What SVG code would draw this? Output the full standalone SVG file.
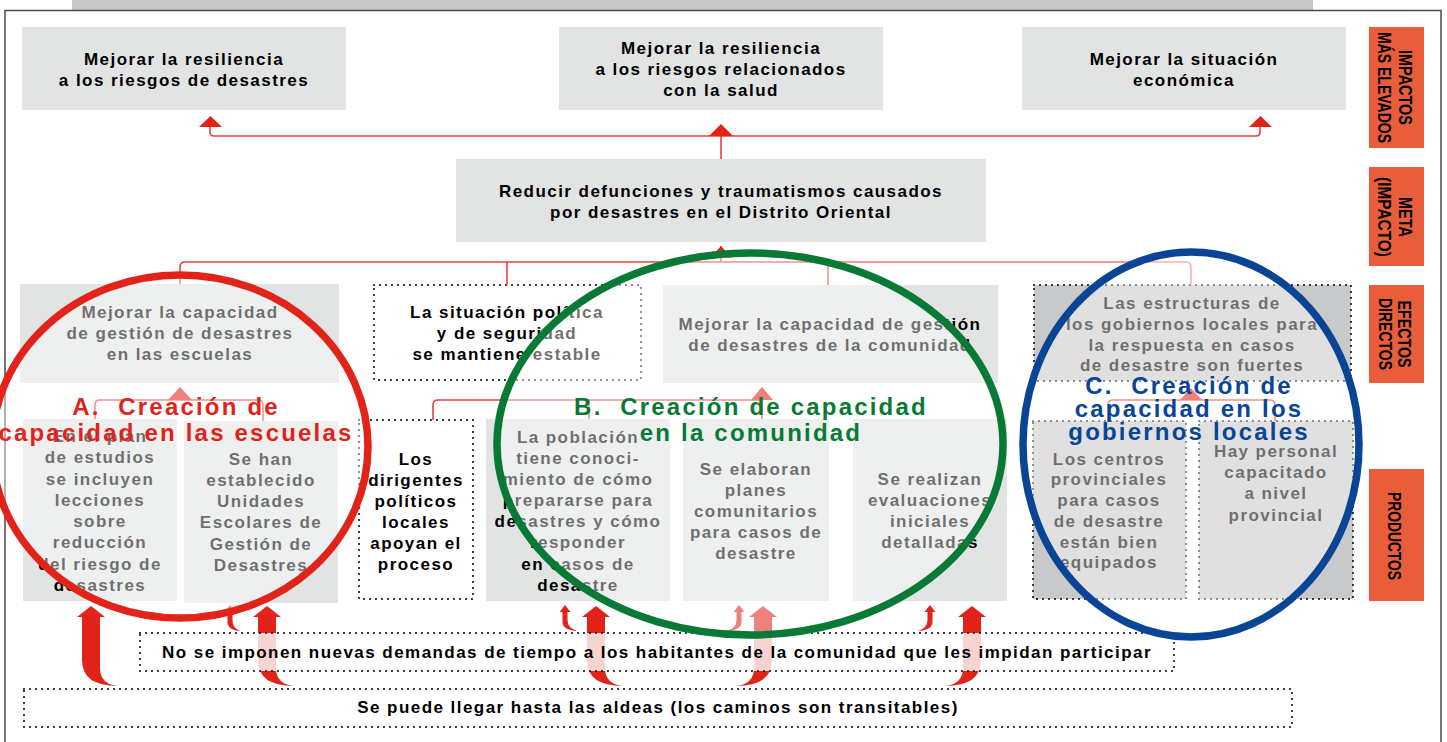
<svg xmlns="http://www.w3.org/2000/svg" width="1447" height="742" viewBox="0 0 1447 742">
<style>
.t{font-family:"Liberation Sans",Arial,sans-serif;font-weight:bold;font-size:17px;letter-spacing:1.45px;fill:#000;text-anchor:middle}
.box{fill:#e2e3e3}
.dbox{fill:#c8c9cb}
.dot{fill:none;stroke:#000;stroke-width:2;stroke-dasharray:0 6;stroke-linecap:round}
.ln{fill:none;stroke:#e8413f;stroke-width:1.6}
.ln2{fill:none;stroke:#ee7a76;stroke-width:1.6}
.ah{fill:#e2231a}
.side{fill:#e95d3b}
.st{font-family:"Liberation Sans",Arial,sans-serif;font-weight:bold;font-size:18px;fill:#000;text-anchor:middle}
.lbl{font-family:"Liberation Sans",Arial,sans-serif;font-weight:bold;font-size:24px;letter-spacing:2.2px;text-anchor:middle}
.circ{fill:#fff;fill-opacity:0.43;stroke-width:7.5}
</style>
<rect x="72" y="0" width="1241" height="10" fill="#c6c7c9"/>
<path d="M5,742 V10.5 H1441 V742" fill="none" stroke="#4a4a4c" stroke-width="1.5"/>

<g id="impacto1"><rect class="box" x="22" y="27" width="324" height="83"/><text class="t"><tspan x="184" y="65">Mejorar la resiliencia</tspan><tspan x="184" y="86">a los riesgos de desastres</tspan></text></g>
<g id="impacto2"><rect class="box" x="559" y="27" width="324" height="83"/><text class="t"><tspan x="721" y="54">Mejorar la resiliencia</tspan><tspan x="721" y="75">a los riesgos relacionados</tspan><tspan x="721" y="96">con la salud</tspan></text></g>
<g id="impacto3"><rect class="box" x="1022" y="27" width="324" height="83"/><text class="t"><tspan x="1184" y="65">Mejorar la situación</tspan><tspan x="1184" y="86">económica</tspan></text></g>
<g id="meta"><rect class="box" x="456" y="159" width="530" height="83"/><text class="t"><tspan x="721" y="197">Reducir defunciones y traumatismos causados</tspan><tspan x="721" y="218">por desastres en el Distrito Oriental</tspan></text></g>

<g id="efectoA"><rect class="box" x="20" y="284" width="319" height="99"/><text class="t"><tspan x="180" y="318">Mejorar la capacidad</tspan><tspan x="180" y="339">de gestión de desastres</tspan><tspan x="180" y="360">en las escuelas</tspan></text></g>
<g id="situacion"><rect class="dot" x="374" y="285" width="267" height="95"/><text class="t"><tspan x="507" y="318">La situación política</tspan><tspan x="507" y="339">y de seguridad</tspan><tspan x="507" y="360">se mantiene estable</tspan></text></g>
<g id="efectoB"><rect class="box" x="663" y="285" width="335" height="98"/><text class="t"><tspan x="830" y="330">Mejorar la capacidad de gestión</tspan><tspan x="830" y="351">de desastres de la comunidad</tspan></text></g>
<g id="efectoC"><rect class="dbox" x="1034" y="285" width="317" height="96"/><rect class="dot" x="1034" y="285" width="317" height="96"/><text class="t"><tspan x="1192" y="309">Las estructuras de</tspan><tspan x="1192" y="330">los gobiernos locales para</tspan><tspan x="1192" y="351">la respuesta en casos</tspan><tspan x="1192" y="371">de desastre son fuertes</tspan></text></g>

<g id="productoA1"><rect class="box" x="23" y="419" width="154" height="182"/><text class="t"><tspan x="100" y="442">En el plan</tspan><tspan x="100" y="463">de estudios</tspan><tspan x="100" y="485">se incluyen</tspan><tspan x="100" y="506">lecciones</tspan><tspan x="100" y="527">sobre</tspan><tspan x="100" y="548">reducción</tspan><tspan x="100" y="570">del riesgo de</tspan><tspan x="100" y="591">desastres</tspan></text></g>
<g id="productoA2"><rect class="box" x="184" y="421" width="154" height="182"/><text class="t"><tspan x="261" y="465">Se han</tspan><tspan x="261" y="486">establecido</tspan><tspan x="261" y="507">Unidades</tspan><tspan x="261" y="528">Escolares de</tspan><tspan x="261" y="550">Gestión de</tspan><tspan x="261" y="571">Desastres</tspan></text></g>
<g id="dirigentes"><rect class="dot" x="359" y="420" width="114" height="179"/><text class="t"><tspan x="416" y="465">Los</tspan><tspan x="416" y="486">dirigentes</tspan><tspan x="416" y="507">políticos</tspan><tspan x="416" y="528">locales</tspan><tspan x="416" y="549">apoyan el</tspan><tspan x="416" y="570">proceso</tspan></text></g>
<g id="productoB1"><rect class="box" x="486" y="419" width="184" height="182"/><text class="t"><tspan x="578" y="443">La población</tspan><tspan x="578" y="464">tiene conoci-</tspan><tspan x="578" y="485">miento de cómo</tspan><tspan x="578" y="506">prepararse para</tspan><tspan x="578" y="527">desastres y cómo</tspan><tspan x="578" y="548">responder</tspan><tspan x="578" y="570">en casos de</tspan><tspan x="578" y="591">desastre</tspan></text></g>
<g id="productoB2"><rect class="box" x="683" y="419" width="146" height="182"/><text class="t"><tspan x="756" y="475">Se elaboran</tspan><tspan x="756" y="496">planes</tspan><tspan x="756" y="517">comunitarios</tspan><tspan x="756" y="538">para casos de</tspan><tspan x="756" y="559">desastre</tspan></text></g>
<g id="productoB3"><rect class="box" x="853" y="419" width="154" height="182"/><text class="t"><tspan x="930" y="485">Se realizan</tspan><tspan x="930" y="506">evaluaciones</tspan><tspan x="930" y="527">iniciales</tspan><tspan x="930" y="548">detalladas</tspan></text></g>
<g id="productoC1"><rect class="dbox" x="1033" y="421" width="153" height="178"/><rect class="dot" x="1033" y="421" width="153" height="178"/><text class="t"><tspan x="1109" y="465">Los centros</tspan><tspan x="1109" y="485">provinciales</tspan><tspan x="1109" y="506">para casos</tspan><tspan x="1109" y="527">de desastre</tspan><tspan x="1109" y="548">están bien</tspan><tspan x="1109" y="568">equipados</tspan></text></g>
<g id="productoC2"><rect class="dbox" x="1199" y="421" width="154" height="178"/><rect class="dot" x="1199" y="421" width="154" height="178"/><text class="t"><tspan x="1276" y="457">Hay personal</tspan><tspan x="1276" y="478">capacitado</tspan><tspan x="1276" y="499">a nivel</tspan><tspan x="1276" y="521">provincial</tspan></text></g>

<g id="connectors">
<path class="ln" d="M210,127 V132 Q210,136 214,136 H1256 Q1260,136 1260,132 V127"/>
<path class="ln" d="M721,136 V159"/>
<polygon class="ah" points="199,127 222,127 210.5,116"/>
<polygon class="ah" points="709,136 733,136 721,124"/>
<polygon class="ah" points="1249,127 1272,127 1260.5,116"/>
<path class="ln" d="M721,246 V262"/>
<path class="ln" d="M180,284 V267 Q180,262 185,262 H828"/>
<path class="ln2" d="M828,262 H1186 Q1191,262 1191,267 V285"/>
<path class="ln" d="M507,262 V285 M828,262 V285"/>
<polygon class="ah" points="710,258 732,258 721,246"/>
<path class="ln" d="M95,419 V405 Q95,400 100,400 H258 Q263,400 263,405 V421"/>
<polygon class="ah" points="168,400 192,400 180,387"/>
<path class="ln" d="M433,420 V405 Q433,400 438,400 H762 M589,400 V419 M762,400 V419"/>
<polygon class="ah" points="751,400 773,400 762,387"/>
<path class="ln" d="M1108,421 V405 Q1108,400 1113,400 H1270 Q1275,400 1275,405 V421"/>
<polygon class="ah" points="1180,400 1202,400 1191,388"/>
<path class="ah" d="M82,617 L82,660 Q82,686 118,686 Q100,684 100,668 L100,617 L105,617 L91,606 L77,617 Z"/>
<path class="ah" d="M258,617 L258,660 Q258,686 294,686 Q276,684 276,668 L276,617 L281,617 L267,606 L253,617 Z"/>
<path class="ah" d="M587,617 L587,660 Q587,686 623,686 Q605,684 605,668 L605,617 L610,617 L596,606 L582,617 Z"/>
<path class="ah" d="M772,617 L772,660 Q772,686 736,686 Q754,684 754,668 L754,617 L749,617 L763,606 L777,617 Z"/>
<path class="ah" d="M981,617 L981,660 Q981,686 945,686 Q963,684 963,668 L963,617 L958,617 L972,606 L986,617 Z"/>
<path class="ah" d="M227.5,612 L227.5,622 Q227.5,630 240,631 Q232.5,628 232.5,620 L232.5,612 L235.5,612 L230,605 L224.5,612 Z"/>
<path class="ah" d="M562.5,612 L562.5,622 Q562.5,630 577,631 Q567.5,628 567.5,620 L567.5,612 L570.5,612 L565,605 L559.5,612 Z"/>
<path class="ah" d="M741.5,612 L741.5,622 Q741.5,630 727,631 Q736.5,628 736.5,620 L736.5,612 L733.5,612 L739,605 L744.5,612 Z"/>
<path class="ah" d="M932.5,612 L932.5,622 Q932.5,630 918,631 Q927.5,628 927.5,620 L927.5,612 L924.5,612 L930,605 L935.5,612 Z"/>
</g>

<g id="supuesto1"><rect x="140" y="633" width="1034" height="38" fill="#fff" fill-opacity="0.8"/><rect class="dot" x="140" y="633" width="1034" height="38"/><text class="t" x="657" y="658">No se imponen nuevas demandas de tiempo a los habitantes de la comunidad que les impidan participar</text></g>
<g id="supuesto2"><rect class="dot" x="24" y="689" width="1268" height="38"/><text class="t" x="658" y="713">Se puede llegar hasta las aldeas (los caminos son transitables)</text></g>

<g id="grupoA"><ellipse class="circ" cx="180" cy="446.5" rx="188" ry="171.5" stroke="#e2231a"/><text class="lbl" fill="#e2231a"><tspan x="176" y="415">A.&#160; Creación de</tspan><tspan x="176" y="441">capacidad en las escuelas</tspan></text></g>
<g id="grupoB"><ellipse class="circ" cx="750" cy="444" rx="253" ry="191" stroke="#087a36"/><text class="lbl" fill="#087a36"><tspan x="751" y="415">B.&#160; Creación de capacidad</tspan><tspan x="751" y="441">en la comunidad</tspan></text></g>
<g id="grupoC"><ellipse class="circ" cx="1191" cy="444.5" rx="168" ry="192.5" stroke="#0a4595"/><text class="lbl" fill="#0a4595"><tspan x="1189" y="394">C.&#160; Creación de</tspan><tspan x="1189" y="417">capacidad en los</tspan><tspan x="1189" y="440">gobiernos locales</tspan></text></g>

<g id="nivel1"><rect class="side" x="1369" y="27" width="55" height="121"/><text class="st" transform="translate(1399,87.5) rotate(90)" textLength="75" lengthAdjust="spacingAndGlyphs">IMPACTOS</text><text class="st" transform="translate(1378,87.5) rotate(90)" textLength="111" lengthAdjust="spacingAndGlyphs">MÁS ELEVADOS</text></g>
<g id="nivel2"><rect class="side" x="1369" y="167" width="55" height="99"/><text class="st" transform="translate(1399,217) rotate(90)" textLength="40" lengthAdjust="spacingAndGlyphs">META</text><text class="st" transform="translate(1378,217) rotate(90)" textLength="80" lengthAdjust="spacingAndGlyphs">(IMPACTO)</text></g>
<g id="nivel3"><rect class="side" x="1369" y="285" width="55" height="98"/><text class="st" transform="translate(1398,334) rotate(90)" textLength="67" lengthAdjust="spacingAndGlyphs">EFECTOS</text><text class="st" transform="translate(1379,334) rotate(90)" textLength="72" lengthAdjust="spacingAndGlyphs">DIRECTOS</text></g>
<g id="nivel4"><rect class="side" x="1369" y="469" width="55" height="132"/><text class="st" transform="translate(1388,536) rotate(90)" textLength="88" lengthAdjust="spacingAndGlyphs">PRODUCTOS</text></g>
</svg>
